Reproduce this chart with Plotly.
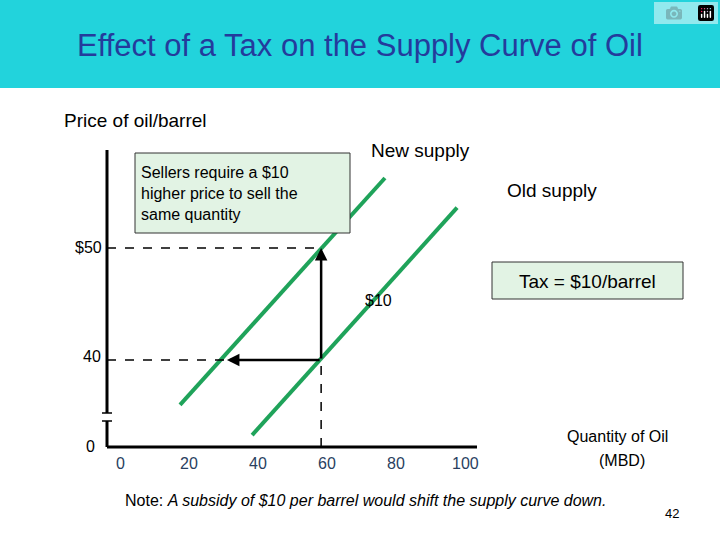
import plotly.graph_objects as go

# supply curves (quantity MBD, price $/barrel)
old_q = [38.3, 97.7]
old_p = [33.3, 53.6]
new_q = [17.4, 76.8]
new_p = [36.0, 56.25]

q_eq = 58.3          # quantity at old equilibrium
q_new = 31.0         # quantity on new supply at $40
p_low, p_high = 40, 50
x_ticks = [0, 20, 40, 60, 80, 100]

W, H = 720, 540
X0, XS = 120, 3.45        # px of q=0, px per unit
Y40, YS = 360, 11.2       # px of p=40, px per unit
xr = [(0 - X0) / XS, (W - X0) / XS]
yr = [40 + (Y40 - H) / YS, 40 + Y40 / YS]

def px(x):
    return x / W

def py(y):
    return 1 - y / H

def q_of(p):
    return (p - X0) / XS

def p_of(p):
    return 40 + (Y40 - p) / YS

FONT = "Liberation Sans, Arial, sans-serif"
GREEN = "#1fa35a"

fig = go.Figure()
fig.add_trace(go.Scatter(x=old_q, y=old_p, mode="lines", line=dict(color=GREEN, width=4)))
fig.add_trace(go.Scatter(x=new_q, y=new_p, mode="lines", line=dict(color=GREEN, width=4)))

ax_left, ax_bot = q_of(107), p_of(447)
shapes = [
    # header band
    dict(type="rect", xref="paper", yref="paper", x0=0, x1=1, y0=py(88), y1=1,
         fillcolor="#22d3dc", line=dict(width=0), layer="below"),
    # axes
    dict(type="line", x0=ax_left, x1=q_of(477), y0=ax_bot, y1=ax_bot, line=dict(color="black", width=3)),
    dict(type="line", x0=ax_left, x1=ax_left, y0=p_of(150), y1=p_of(413), line=dict(color="black", width=3)),
    dict(type="line", x0=ax_left, x1=ax_left, y0=p_of(421), y1=ax_bot, line=dict(color="black", width=3)),
    dict(type="line", x0=q_of(102), x1=q_of(112), y0=p_of(413), y1=p_of(413), line=dict(color="black", width=1.5)),
    dict(type="line", x0=q_of(102), x1=q_of(112), y0=p_of(421), y1=p_of(421), line=dict(color="black", width=1.5)),
    # dashed guides
    dict(type="line", x0=ax_left, x1=q_eq, y0=p_high, y1=p_high, line=dict(color="black", width=1.5, dash="dash")),
    dict(type="line", x0=ax_left, x1=q_new, y0=p_low, y1=p_low, line=dict(color="black", width=1.5, dash="dash")),
    dict(type="line", x0=q_eq, x1=q_eq, y0=ax_bot, y1=p_low, line=dict(color="black", width=1.5, dash="dash")),
    # boxes
    dict(type="rect", xref="paper", yref="paper", x0=px(135), x1=px(350), y0=py(233), y1=py(153),
         fillcolor="#e2f3e4", line=dict(color="#333", width=1)),
    dict(type="rect", xref="paper", yref="paper", x0=px(492), x1=px(683), y0=py(299), y1=py(262),
         fillcolor="#e2f3e4", line=dict(color="#333", width=1)),
]

ann = []
def text(x, y, s, size=17, xanchor="center", **kw):
    ann.append(dict(xref="paper", yref="paper", x=px(x), y=py(y), text=s, showarrow=False,
                    xanchor=xanchor, yanchor="middle",
                    font=dict(family=FONT, size=size, color=kw.pop("color", "black")), **kw))

# arrows
ann.append(dict(x=q_eq, y=p_high, ax=q_eq, ay=p_low, xref="x", yref="y", axref="x", ayref="y",
                showarrow=True, arrowhead=2, arrowsize=1, arrowwidth=2.5, arrowcolor="black", text=""))
ann.append(dict(x=q_new, y=p_low, ax=q_eq, ay=p_low, xref="x", yref="y", axref="x", ayref="y",
                showarrow=True, arrowhead=2, arrowsize=1, arrowwidth=2.5, arrowcolor="black", text=""))

text(360, 45, "Effect of a Tax on the Supply Curve of Oil", size=31, color="#243b9c")
text(135, 120, "Price of oil/barrel", size=19)
text(420, 150, "New supply", size=19)
text(552, 191, "Old supply", size=19)
text(139, 193, "Sellers require a $10<br>higher price to sell the<br>same quantity", size=16,
     xanchor="left", align="left")
text(587, 281, "Tax = $10/barrel", size=19)
text(378, 300, "$10", size=16)
text(88, 247, "$50", size=16)
text(92, 356, "40", size=16)
text(90, 447, "0", size=16)
for t in x_ticks:
    ann.append(dict(x=t, y=p_of(463), xref="x", yref="y", text=str(t), showarrow=False,
                    xanchor="center", yanchor="middle", font=dict(family=FONT, size=16)))
text(617, 436, "Quantity of Oil", size=16)
text(622, 460, "(MBD)", size=16)
text(365, 500, "Note: <i>A subsidy of $10 per barrel would shift the supply curve down.</i>", size=16)
text(672, 513, "42", size=13)

fig.update_layout(
    width=W, height=H, margin=dict(l=0, r=0, t=0, b=0),
    plot_bgcolor="white", paper_bgcolor="white", showlegend=False,
    xaxis=dict(range=xr, visible=False, fixedrange=True),
    yaxis=dict(range=yr, visible=False, fixedrange=True),
    shapes=shapes, annotations=ann,
)
fig.write_html("out.html", post_script="document.body.style.margin='0';")
